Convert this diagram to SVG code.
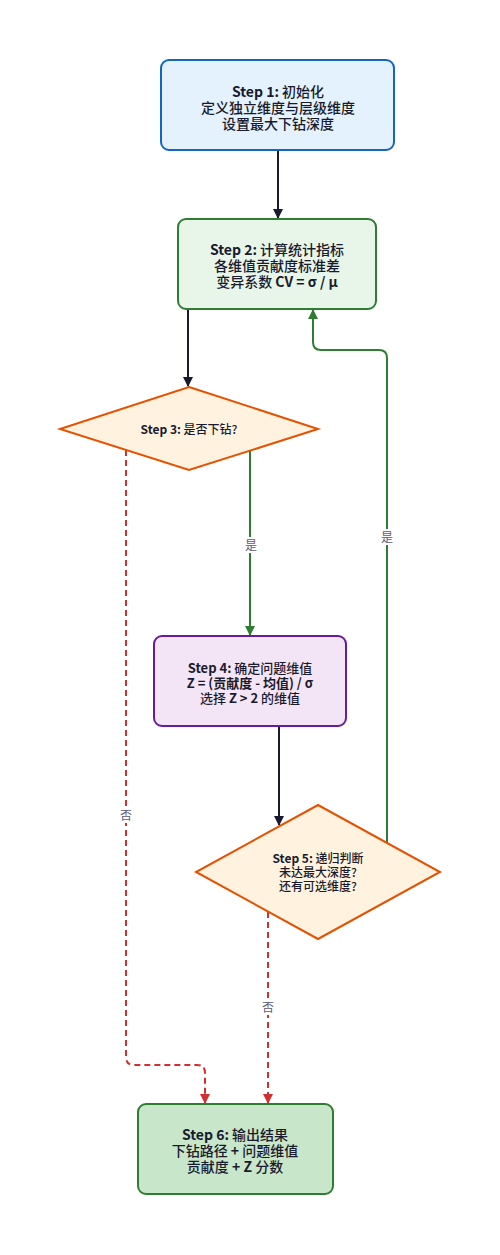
<svg xmlns="http://www.w3.org/2000/svg" width="500" height="1255" viewBox="0 0 500 1255">
<style>
text{font-family:"Noto Sans CJK SC","Noto Sans",sans-serif;font-size:14px;font-weight:500;fill:#1a1a2e;text-anchor:middle}
.s13{font-size:13px}
.s12{font-size:12px}
.b{font-weight:bold}
.lbl{font-size:12px;font-weight:normal;fill:#5c5c75}
.e{fill:none;stroke-width:2}
.dk{stroke:#1a1a2e}
.gr{stroke:#2e7d32}
.rd{stroke:#d32f2f;stroke-dasharray:6 4}
</style>
<defs>
<marker id="ad" markerWidth="10" markerHeight="10" refX="9" refY="5" orient="auto" markerUnits="userSpaceOnUse"><path d="M0,0 L10,5 L0,10 z" fill="#1a1a2e"/></marker>
<marker id="ag" markerWidth="10" markerHeight="10" refX="9" refY="5" orient="auto" markerUnits="userSpaceOnUse"><path d="M0,0 L10,5 L0,10 z" fill="#2e7d32"/></marker>
<marker id="ar" markerWidth="10" markerHeight="10" refX="9" refY="5" orient="auto" markerUnits="userSpaceOnUse"><path d="M0,0 L10,5 L0,10 z" fill="#d32f2f"/></marker>
</defs>
<rect width="500" height="1255" fill="#ffffff"/>
<g id="edges">
<path class="e dk" d="M278,150 V218" marker-end="url(#ad)"/>
<path class="e dk" d="M188,309 V386" marker-end="url(#ad)"/>
<path class="e gr" d="M250,451 V635" marker-end="url(#ag)"/>
<path class="e dk" d="M279,726 V825" marker-end="url(#ad)"/>
<path class="e gr" d="M387,843 V358 Q387,350 379,350 H321 Q313,350 313,342 V310" marker-end="url(#ag)"/>
<path class="e rd" d="M126,450 V1057 Q126,1065 134,1065 H197 Q205,1065 205,1073 V1103" marker-end="url(#ar)"/>
<path class="e rd" d="M268,912 V1103" marker-end="url(#ar)"/>
<rect x="242" y="537" width="18" height="16" fill="#fff"/>
<text class="lbl" x="251" y="550">是</text>
<rect x="378" y="529" width="18" height="16" fill="#fff"/>
<text class="lbl" x="387" y="542">是</text>
<rect x="117" y="807" width="18" height="16" fill="#fff"/>
<text class="lbl" x="126" y="820">否</text>
<rect x="259" y="999" width="18" height="16" fill="#fff"/>
<text class="lbl" x="268" y="1012">否</text>
</g>
<g id="n1">
<rect x="161" y="60" width="233" height="90" rx="8" fill="#e3f2fd" stroke="#1565c0" stroke-width="2"/>
<text x="278" y="97"><tspan class="b">Step 1:</tspan> 初始化<tspan x="278" dy="16">定义独立维度与层级维度</tspan><tspan x="278" dy="16">设置最大下钻深度</tspan></text>
</g>
<g id="n2">
<rect x="178" y="219" width="198" height="90" rx="8" fill="#e8f5e9" stroke="#2e7d32" stroke-width="2"/>
<text x="277" y="255"><tspan class="b">Step 2:</tspan> 计算统计指标<tspan x="277" dy="16">各维值贡献度标准差</tspan><tspan x="277" dy="16">变异系数 </tspan><tspan class="b">CV = σ / μ</tspan></text>
</g>
<g id="n3">
<polygon points="189,387 318,429 189,470 60,429" fill="#fff3e0" stroke="#e65100" stroke-width="2"/>
<text class="s12" x="189" y="434"><tspan class="b">Step 3:</tspan> 是否下钻?</text>
</g>
<g id="n4">
<rect x="154" y="636" width="192" height="90" rx="8" fill="#f3e5f5" stroke="#6a1b9a" stroke-width="2"/>
<text class="s13" x="250" y="673"><tspan class="b">Step 4:</tspan> 确定问题维值<tspan class="b" x="250" dy="15">Z = (贡献度 - 均值) / σ</tspan><tspan x="250" dy="15">选择 </tspan><tspan class="b">Z &gt; 2</tspan><tspan> 的维值</tspan></text>
</g>
<g id="n5">
<polygon points="318,805 440,872 318,939 196,872" fill="#fff3e0" stroke="#e65100" stroke-width="2"/>
<text class="s12" x="318" y="863"><tspan class="b">Step 5:</tspan> 递归判断<tspan x="318" dy="14">未达最大深度?</tspan><tspan x="318" dy="14">还有可选维度?</tspan></text>
</g>
<g id="n6">
<rect x="138" y="1104" width="195" height="90" rx="8" fill="#c8e6c9" stroke="#2e7d32" stroke-width="2"/>
<text x="235" y="1140"><tspan class="b">Step 6:</tspan> 输出结果<tspan x="235" dy="16">下钻路径 </tspan><tspan class="b">+</tspan><tspan> 问题维值</tspan><tspan x="235" dy="16">贡献度 </tspan><tspan class="b">+ Z</tspan><tspan> 分数</tspan></text>
</g>
</svg>
